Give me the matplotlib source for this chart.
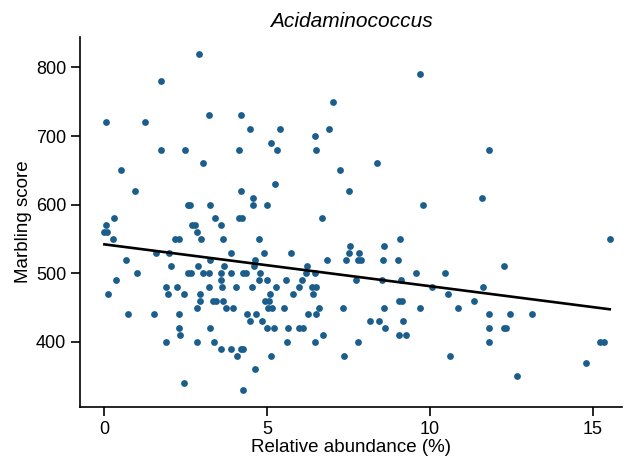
import matplotlib.pyplot as plt
import numpy as np

plt.rcParams.update({"font.family": ["Liberation Sans", "DejaVu Sans"]})

# relative abundance (%) and marbling score, listed row by row (score level)
abundance = [
    2.92,                                   # 820
    9.70,                                   # 790
    1.74,                                   # 780
    7.03,                                   # 750
    3.23, 4.19,                             # 730
    0.07, 1.24,                             # 720
    4.47, 5.39, 6.89,                       # 710
    6.47,                                   # 700
    5.12,                                   # 690
    1.75, 2.47, 4.13, 5.32, 6.50, 11.82,    # 680
    3.05, 8.38,                             # 660
    0.53, 7.25,                             # 650
    5.25,                                   # 630
    0.96, 4.21, 7.52,                       # 620
    4.57, 11.60,                            # 610
    2.56, 2.64, 3.26, 4.57, 4.99, 9.79,     # 600
    0.30, 3.40, 4.14, 4.24, 6.69,           # 580
    0.05, 2.71, 2.79, 3.58,                 # 570
    0.01, 0.08, 2.86,                       # 560
    0.27, 2.19, 2.29, 2.97, 3.64, 4.76, 9.08, 15.52,            # 550
    7.56, 8.60,                                                 # 540
    1.60, 1.98, 3.89, 4.92, 5.75, 7.52, 7.81,                   # 530
    0.67, 3.25, 4.62, 6.85, 7.44, 7.78, 7.90, 8.55, 9.01,       # 520
    2.06, 2.88, 3.67, 4.61, 6.22, 12.27,                        # 510
    1.01, 2.56, 2.66, 3.04, 3.23, 3.60, 3.88, 4.27, 4.37, 4.79,
    6.20, 6.47, 9.56, 10.45,                                    # 500
    0.35, 3.60, 4.77, 5.00, 5.58, 6.07, 7.74, 8.54, 9.10,       # 490
    1.91, 2.25, 3.23, 3.62, 4.04, 4.53, 5.28, 5.98, 6.37, 6.50,
    10.08, 11.62,                                               # 480
    0.12, 1.95, 2.44, 2.93, 5.10, 5.80, 6.42, 10.56,            # 470
    2.95, 3.33, 3.42, 3.64, 4.93, 5.05, 9.04, 9.14, 11.36,      # 460
    2.84, 3.73, 3.97, 5.02, 5.15, 5.51, 6.60, 7.33, 8.58, 9.70,
    10.87,                                                      # 450
    0.72, 1.53, 2.31, 4.39, 4.65, 6.27, 6.51, 11.81, 12.47, 13.14,  # 440
    4.47, 4.86, 8.15, 8.44, 9.17,                               # 430
    2.29, 3.26, 4.99, 5.23, 5.64, 5.98, 6.11, 8.61, 11.81, 12.27,
    12.35,                                                      # 420
    2.32, 6.73, 9.06, 9.26,                                     # 410
    1.91, 2.85, 3.38, 5.61, 6.47, 7.80, 11.83, 15.22, 15.35,    # 400
    3.59, 3.91, 4.19, 4.27,                                     # 390
    4.08, 5.13, 7.37, 10.62,                                    # 380
    14.79,                                                      # 370
    4.63,                                                       # 360
    12.68,                                                      # 350
    2.45,                                                       # 340
    4.26,                                                       # 330
]
row_levels = [820, 790, 780, 750, 730, 720, 710, 700, 690, 680, 660, 650,
              630, 620, 610, 600, 580, 570, 560, 550, 540, 530, 520, 510,
              500, 490, 480, 470, 460, 450, 440, 430, 420, 410, 400, 390,
              380, 370, 360, 350, 340, 330]
row_counts = [1, 1, 1, 1, 2, 2, 3, 1, 1, 6, 2, 2,
              1, 3, 2, 6, 5, 4, 3, 8, 2, 7, 9, 6,
              14, 9, 12, 8, 9, 11, 10, 5, 11, 4, 9, 4,
              4, 1, 1, 1, 1, 1]
marbling = np.repeat(row_levels, row_counts)
abundance = np.array(abundance)

slope, intercept = np.polyfit(abundance, marbling, 1)
xfit = np.array([abundance.min(), abundance.max()])

fig = plt.figure(figsize=(6.4, 4.59), dpi=100)
ax = fig.add_axes([0.125, 0.113, 0.847, 0.806])

ax.scatter(abundance, marbling, s=24, color="#1b5e8c", linewidths=0, zorder=2)
ax.plot(xfit, intercept + slope * xfit, color="black", lw=1.9, zorder=3)

ax.set_xlim(-0.74, 15.9)
ax.set_ylim(305, 844)
ax.set_xticks([0, 5, 10, 15])
ax.set_yticks([400, 500, 600, 700, 800])
ax.set_xlabel("Relative abundance (%)", fontsize=13.5, labelpad=1)
ax.set_ylabel("Marbling score", fontsize=13.5, labelpad=3)
ax.set_title("Acidaminococcus", fontsize=15, style="italic", pad=7)
ax.tick_params(labelsize=13, length=6.5, width=1.2)
for side in ("top", "right"):
    ax.spines[side].set_visible(False)
for side in ("left", "bottom"):
    ax.spines[side].set_linewidth(1.2)

fig.savefig("out.png", dpi=100)
